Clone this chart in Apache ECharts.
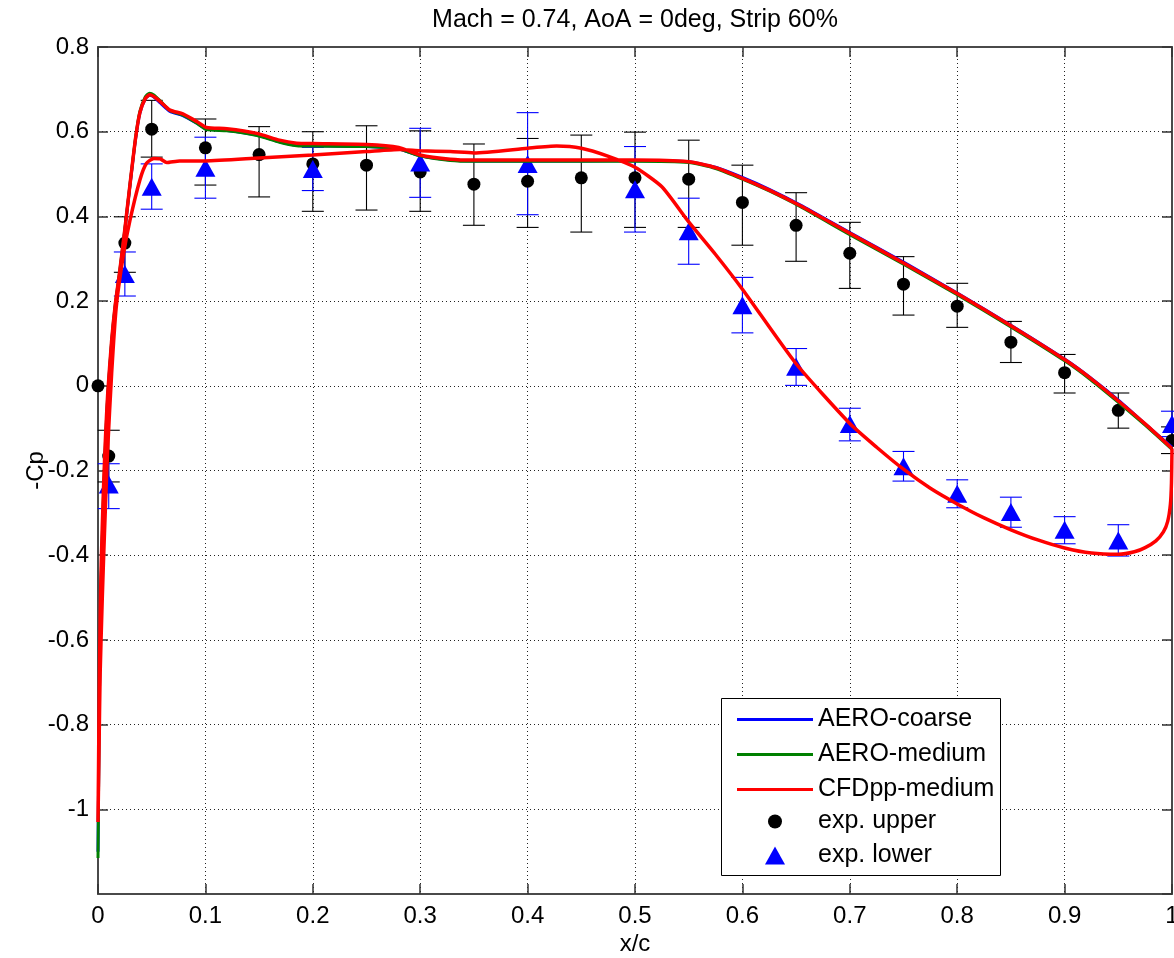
<!DOCTYPE html>
<html>
<head>
<meta charset="utf-8">
<script src="https://cdn.jsdelivr.net/npm/echarts@6/dist/echarts.min.js"></script>
<style>
html,body{margin:0;padding:0;background:#fff;}
#chart{width:1174px;height:958px;}
</style>
</head>
<body>
<div id="chart"></div>
<script>
// ---------- DATA ----------
const titleText = 'Mach = 0.74, AoA = 0deg, Strip 60%';
const xTicks = { min: 0, max: 1, step: 0.1 };
const yTicks = { min: -1.2, max: 0.8, step: 0.2 };

// computed curves, upper surface (leading edge -> trailing edge)
const upperX = [0, 0.0005, 0.001, 0.002, 0.003, 0.005, 0.007, 0.009, 0.0127, 0.016, 0.02, 0.025, 0.03, 0.035, 0.039, 0.044, 0.048, 0.052, 0.058, 0.067, 0.079, 0.092, 0.101, 0.12, 0.148, 0.169, 0.185, 0.2, 0.25, 0.28, 0.3, 0.328, 0.35, 0.4, 0.45, 0.5, 0.55, 0.575, 0.6, 0.625, 0.654, 0.7, 0.75, 0.8, 0.85, 0.9, 0.924, 0.952, 0.975, 1.0];
const aeroCoarseUpper = [-1.1, -0.95, -0.8, -0.6, -0.46, -0.28, -0.14, -0.03, 0.1, 0.185, 0.262, 0.367, 0.478, 0.583, 0.644, 0.678, 0.686, 0.682, 0.668, 0.648, 0.638, 0.62, 0.606, 0.603, 0.592, 0.576, 0.568, 0.567, 0.565, 0.559, 0.543, 0.533, 0.531, 0.531, 0.531, 0.532, 0.529, 0.516, 0.492, 0.464, 0.427, 0.362, 0.292, 0.219, 0.143, 0.063, 0.019, -0.038, -0.09, -0.145];
const aeroMediumUpper = [-1.115, -0.96, -0.8, -0.6, -0.45, -0.27, -0.13, -0.025, 0.105, 0.19, 0.266, 0.37, 0.48, 0.586, 0.648, 0.682, 0.691, 0.687, 0.673, 0.65, 0.639, 0.62, 0.605, 0.602, 0.591, 0.575, 0.567, 0.566, 0.565, 0.559, 0.543, 0.532, 0.53, 0.53, 0.53, 0.53, 0.527, 0.513, 0.488, 0.46, 0.423, 0.357, 0.287, 0.215, 0.139, 0.059, 0.015, -0.043, -0.093, -0.15];
const cfdppUpper = [-1.03, -0.9, -0.75, -0.55, -0.42, -0.25, -0.12, -0.02, 0.107, 0.19, 0.266, 0.37, 0.48, 0.585, 0.645, 0.678, 0.687, 0.683, 0.671, 0.651, 0.642, 0.624, 0.61, 0.607, 0.596, 0.58, 0.573, 0.572, 0.57, 0.563, 0.545, 0.535, 0.533, 0.533, 0.533, 0.533, 0.529, 0.515, 0.49, 0.462, 0.425, 0.36, 0.29, 0.218, 0.142, 0.062, 0.018, -0.04, -0.09, -0.148];

// computed curve, lower surface (leading edge -> trailing edge)
const lowerX = [0, 0.001, 0.002, 0.004, 0.006, 0.009, 0.0127, 0.017, 0.0238, 0.0298, 0.039, 0.045, 0.052, 0.058, 0.064, 0.076, 0.1, 0.15, 0.2, 0.25, 0.281, 0.3, 0.328, 0.35, 0.4, 0.427, 0.45, 0.474, 0.5, 0.525, 0.55, 0.575, 0.6, 0.65, 0.7, 0.725, 0.75, 0.775, 0.8, 0.825, 0.85, 0.875, 0.9, 0.925, 0.95, 0.965, 0.975, 0.985, 0.992, 0.996, 0.9985, 0.9995, 1.0];
const cfdppLower = [-1.03, -0.85, -0.68, -0.5, -0.35, -0.15, 0.029, 0.186, 0.312, 0.391, 0.486, 0.525, 0.537, 0.536, 0.527, 0.531, 0.531, 0.538, 0.545, 0.553, 0.558, 0.555, 0.553, 0.55, 0.561, 0.566, 0.561, 0.543, 0.516, 0.47, 0.387, 0.31, 0.228, 0.052, -0.089, -0.145, -0.197, -0.242, -0.279, -0.312, -0.34, -0.364, -0.383, -0.395, -0.398, -0.392, -0.382, -0.366, -0.345, -0.32, -0.28, -0.23, -0.148];

// experiment, upper surface
const expUpperX  = [0, 0.01, 0.025, 0.05, 0.1, 0.15, 0.2, 0.25, 0.3, 0.35, 0.4, 0.45, 0.5, 0.55, 0.6, 0.65, 0.7, 0.75, 0.8, 0.85, 0.9, 0.95, 1.0];
const expUpperCp = [0, -0.166, 0.337, 0.606, 0.562, 0.546, 0.524, 0.521, 0.505, 0.476, 0.483, 0.491, 0.491, 0.488, 0.433, 0.379, 0.313, 0.24, 0.188, 0.103, 0.031, -0.058, -0.129];
const expUpperLo = [0, -0.227, 0.268, 0.54, 0.474, 0.446, 0.412, 0.415, 0.412, 0.379, 0.374, 0.363, 0.374, 0.374, 0.332, 0.294, 0.23, 0.167, 0.138, 0.055, -0.017, -0.1, -0.16];
const expUpperHi = [0, -0.105, 0.399, 0.674, 0.63, 0.612, 0.6, 0.614, 0.602, 0.571, 0.584, 0.592, 0.599, 0.58, 0.521, 0.456, 0.386, 0.305, 0.242, 0.152, 0.074, -0.017, -0.097];

// experiment, lower surface
const expLowerX  = [0.01, 0.025, 0.05, 0.1, 0.2, 0.3, 0.4, 0.5, 0.55, 0.6, 0.65, 0.7, 0.75, 0.8, 0.85, 0.9, 0.95, 1.0];
const expLowerCp = [-0.233, 0.264, 0.47, 0.515, 0.512, 0.527, 0.524, 0.464, 0.365, 0.19, 0.045, -0.09, -0.19, -0.255, -0.298, -0.34, -0.365, -0.09];
const expLowerLo = [-0.29, 0.212, 0.417, 0.443, 0.461, 0.445, 0.404, 0.363, 0.287, 0.125, 0.001, -0.13, -0.225, -0.288, -0.334, -0.373, -0.402, -0.12];
const expLowerHi = [-0.184, 0.316, 0.524, 0.587, 0.563, 0.608, 0.645, 0.565, 0.443, 0.256, 0.088, -0.053, -0.155, -0.222, -0.263, -0.309, -0.328, -0.06];

const seriesNames = ['AERO-coarse', 'AERO-medium', 'CFDpp-medium', 'exp. upper', 'exp. lower'];

// ---------- BUILD ----------
const FONT = "'Liberation Sans', Arial, Helvetica, sans-serif";
const zip = (xs, ys) => xs.map((x, i) => [x, ys[i]]);
const zip3 = (xs, a, b) => xs.map((x, i) => [x, a[i], b[i]]);

// red closed contour: upper from TE to LE, then lower from LE to TE
const cfdLoop = zip(upperX, cfdppUpper).reverse().concat(zip(lowerX, cfdppLower).slice(1));

function errRender(color) {
  return function (params, api) {
    const x = api.value(0), lo = api.value(1), hi = api.value(2);
    if (lo === hi) return null;
    const pLo = api.coord([x, lo]);
    const pHi = api.coord([x, hi]);
    const hw = 11;
    const st = { stroke: color, lineWidth: 1.1 };
    return {
      type: 'group',
      children: [
        { type: 'line', shape: { x1: pLo[0], y1: pLo[1], x2: pHi[0], y2: pHi[1] }, style: st },
        { type: 'line', shape: { x1: pLo[0] - hw, y1: pLo[1], x2: pLo[0] + hw, y2: pLo[1] }, style: st },
        { type: 'line', shape: { x1: pHi[0] - hw, y1: pHi[1], x2: pHi[0] + hw, y2: pHi[1] }, style: st }
      ]
    };
  };
}

const axisLineStyle = { color: '#4a4a4a', width: 2 };
const tickStyle = { color: '#333', width: 1.5 };
const gridLine = { show: true, lineStyle: { color: '#222', width: 1, type: [1, 3] } };
const legendText = { fontSize: 25, lineHeight: 24, color: '#000', fontFamily: FONT };

const chart = echarts.init(document.getElementById('chart'), null, { renderer: 'canvas' });
chart.setOption({
  backgroundColor: '#fff',
  animation: false,
  title: {
    text: titleText,
    left: 635,
    top: 8,
    padding: 0,
    textAlign: 'center',
    textStyle: { fontSize: 25, fontWeight: 'normal', color: '#000', fontFamily: FONT }
  },
  grid: { left: 98, right: 2, top: 47, bottom: 64, containLabel: false, outerBoundsMode: 'none' },
  xAxis: [
    {
      type: 'value', min: xTicks.min, max: xTicks.max, interval: xTicks.step, position: 'bottom',
      name: 'x/c', nameLocation: 'middle', nameGap: 38, nameMoveOverlap: false,
      nameTextStyle: { fontSize: 24, color: '#000', fontFamily: FONT },
      axisLine: { show: true, onZero: false, lineStyle: axisLineStyle },
      axisTick: { show: true, inside: true, length: 10, lineStyle: tickStyle },
      axisLabel: { fontSize: 24, color: '#000', margin: 10, fontFamily: FONT, alignMaxLabel: 'center', hideOverlap: false },
      splitLine: gridLine
    },
    {
      type: 'value', min: xTicks.min, max: xTicks.max, interval: xTicks.step, position: 'top',
      axisLine: { show: true, onZero: false, lineStyle: axisLineStyle },
      axisTick: { show: true, inside: true, length: 10, lineStyle: tickStyle },
      axisLabel: { show: false }, splitLine: { show: false }
    }
  ],
  yAxis: [
    {
      type: 'value', min: yTicks.min, max: yTicks.max, interval: yTicks.step, position: 'left',
      name: '-Cp', nameLocation: 'middle', nameGap: 50, nameMoveOverlap: false,
      nameTextStyle: { fontSize: 24, color: '#000', fontFamily: FONT },
      axisLine: { show: true, onZero: false, lineStyle: axisLineStyle },
      axisTick: { show: true, inside: true, length: 10, lineStyle: tickStyle },
      axisLabel: { fontSize: 24, color: '#000', margin: 9, fontFamily: FONT, showMinLabel: false },
      splitLine: gridLine
    },
    {
      type: 'value', min: yTicks.min, max: yTicks.max, interval: yTicks.step, position: 'right',
      axisLine: { show: true, onZero: false, lineStyle: axisLineStyle },
      axisTick: { show: true, inside: true, length: 10, lineStyle: tickStyle },
      axisLabel: { show: false }, splitLine: { show: false }
    }
  ],
  legend: [
    {
      data: seriesNames.slice(0, 3), orient: 'vertical', left: 737, top: 707, padding: 0,
      icon: 'rect', itemWidth: 76, itemHeight: 3, itemGap: 10, z: 110, selectedMode: false,
      itemStyle: { borderWidth: 0 }, textStyle: legendText
    },
    {
      data: [seriesNames[3]], orient: 'vertical', left: 768, top: 809, padding: 0,
      icon: 'circle', itemWidth: 76, itemHeight: 14, z: 110, selectedMode: false,
      itemStyle: { borderWidth: 0, opacity: 1 }, textStyle: legendText
    },
    {
      data: [seriesNames[4]], orient: 'vertical', left: 765, top: 843, padding: 0,
      icon: 'path://M10,0L20,18L0,18Z', symbolKeepAspect: true, itemWidth: 76, itemHeight: 18, z: 110, selectedMode: false,
      itemStyle: { borderWidth: 0, opacity: 1 }, textStyle: legendText
    }
  ],
  graphic: [
    {
      type: 'rect', z: 100, silent: true,
      shape: { x: 721.5, y: 698.5, width: 279, height: 177 },
      style: { fill: '#fff', stroke: '#000', lineWidth: 1 }
    }
  ],
  series: [
    {
      type: 'custom', name: 'errUpper', z: 2, silent: true,
      renderItem: errRender('#000'),
      encode: { x: 0, y: [1, 2] },
      data: zip3(expUpperX, expUpperLo, expUpperHi)
    },
    {
      type: 'custom', name: 'errLower', z: 2, silent: true,
      renderItem: errRender('#0000ff'),
      encode: { x: 0, y: [1, 2] },
      data: zip3(expLowerX, expLowerLo, expLowerHi)
    },
    {
      type: 'scatter', name: seriesNames[3], z: 3, symbol: 'circle', symbolSize: 13,
      itemStyle: { color: '#000', opacity: 1 }, clip: false,
      data: zip(expUpperX, expUpperCp)
    },
    {
      type: 'scatter', name: seriesNames[4], z: 3, symbol: 'triangle', symbolSize: [20, 18],
      itemStyle: { color: '#0000ff', opacity: 1 }, clip: false,
      data: zip(expLowerX, expLowerCp)
    },
    {
      type: 'line', name: seriesNames[0], z: 4, symbol: 'none', showSymbol: false, smooth: 0.2,
      lineStyle: { color: '#0000ff', width: 3 }, itemStyle: { color: '#0000ff' },
      data: zip(upperX, aeroCoarseUpper)
    },
    {
      type: 'line', name: seriesNames[1], z: 5, symbol: 'none', showSymbol: false, smooth: 0.2,
      lineStyle: { color: '#008000', width: 3 }, itemStyle: { color: '#008000' },
      data: zip(upperX, aeroMediumUpper)
    },
    {
      type: 'line', name: seriesNames[2], z: 6, symbol: 'none', showSymbol: false, smooth: 0.2,
      lineStyle: { color: '#ff0000', width: 3.5 }, itemStyle: { color: '#ff0000' },
      data: cfdLoop
    }
  ]
});
</script>
</body>
</html>
